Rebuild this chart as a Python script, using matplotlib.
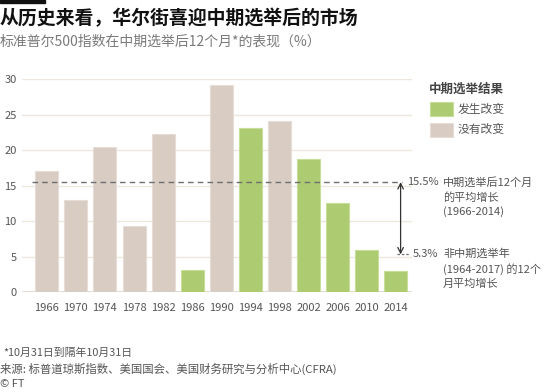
import matplotlib
matplotlib.use("Agg")
import matplotlib.pyplot as plt
from matplotlib.patches import Rectangle

plt.rcParams['font.family'] = ['Noto Sans CJK SC', 'DejaVu Sans']

years = ["1966", "1970", "1974", "1978", "1982", "1986", "1990",
         "1994", "1998", "2002", "2006", "2010", "2014"]
values = [17.1, 13.0, 20.45, 9.3, 22.3, 3.15, 29.15,
          23.1, 24.1, 18.7, 12.5, 5.9, 3.0]
changed = [False, False, False, False, False, True, False,
           True, False, True, True, True, True]
midterm_avg = 15.5
nonmidterm_avg = 5.3
yticks = [0, 5, 10, 15, 20, 25, 30]
legend_title = "中期选举结果"
legend_labels = ["发生改变", "没有改变"]

GREEN = "#adcb70"
BEIGE = "#d9ccc3"
GREEN_EDGE = "#c6dd9c"
BEIGE_EDGE = "#e6ddd6"
GRID = "#efe6dc"
W, H = 550, 392


def fx(px):
    return px / W


def fy(py):
    return 1 - py / H


fig = plt.figure(figsize=(5.5, 3.92), dpi=100)
ax = fig.add_axes([0.04, 0.255, 0.709, 0.543])

x = list(range(len(years)))
colors = [GREEN if c else BEIGE for c in changed]
edges = [GREEN_EDGE if c else BEIGE_EDGE for c in changed]
ax.bar(x, values, width=0.79, color=colors, edgecolor=edges, linewidth=0.8, zorder=2)

ax.set_xlim(-0.85, 12.55)
ax.set_ylim(0, 30)
ax.set_yticks(yticks)
ax.set_xticks(x)
ax.set_xticklabels(years)
ax.grid(axis='y', color=GRID, linewidth=1.0, zorder=0)
ax.axhline(0, color="#ddd3c8", linewidth=1.2, zorder=1)
for s in ax.spines.values():
    s.set_visible(False)
ax.tick_params(axis='both', length=0, labelsize=8, colors="#555555")
ax.tick_params(axis='x', pad=8)
ax.tick_params(axis='y', pad=4)

# dashed average lines
ax.plot([-0.5, 12.2], [midterm_avg, midterm_avg], ls=(0, (4, 3)), color="#6e6e6e",
        lw=1.0, zorder=3, clip_on=False)
ax.plot([12.03, 12.45], [nonmidterm_avg, nonmidterm_avg], ls=(0, (2, 1.5)), color="#6e6e6e",
        lw=0.9, zorder=3, clip_on=False)
ax.annotate("", xy=(12.16, midterm_avg), xytext=(12.16, nonmidterm_avg),
            arrowprops=dict(arrowstyle="<->", color="#333333", lw=0.9,
                            shrinkA=0, shrinkB=0),
            annotation_clip=False)

ann_color = "#555555"
fig.text(fx(407), fy(182), "15.5%", fontsize=8, color=ann_color, va='center', ha='left')
for i, line in enumerate(["中期选举后12个月", "的平均增长", "(1966-2014)"]):
    fig.text(fx(443), fy(182 + 15 * i), line, fontsize=8, color=ann_color,
             va='center', ha='left')
fig.text(fx(413), fy(254), "5.3%", fontsize=8, color=ann_color, va='center', ha='left')
for i, line in enumerate(["非中期选举年", "(1964-2017) 的12个", "月平均增长"]):
    fig.text(fx(443), fy(254 + 15 * i), line, fontsize=8, color=ann_color,
             va='center', ha='left')

# legend (manual)
fig.text(fx(429), fy(89), legend_title, fontsize=9, fontweight='bold', color="#444444",
         va='center', ha='left')
for i, (lab, col, ec) in enumerate(zip(legend_labels, [GREEN, BEIGE], [GREEN_EDGE, BEIGE_EDGE])):
    top = 102 + 21 * i
    fig.add_artist(Rectangle((fx(430), fy(top + 14)), 23 / W, 14 / H,
                             transform=fig.transFigure, facecolor=col, edgecolor=ec, lw=0.8))
    fig.text(fx(458), fy(top + 7), lab, fontsize=8.5, color="#555555",
             va='center', ha='left')

# title block
fig.add_artist(Rectangle((0, fy(3)), 45 / W, 3 / H, transform=fig.transFigure,
                         color="#111111"))
fig.text(0.0, fy(19), "从历史来看，华尔街喜迎中期选举后的市场", fontsize=13.6,
         fontweight='bold', color="#111111", va='center', ha='left')
fig.text(0.0, fy(42), "标准普尔500指数在中期选举后12个月*的表现（%）", fontsize=10,
         color="#7a7a7a", va='center', ha='left')

# footer
fig.text(fx(3), fy(353), "*10月31日到隔年10月31日", fontsize=7.8, color="#555555",
         va='center', ha='left')
fig.text(0.0, fy(369), "来源: 标普道琼斯指数、美国国会、美国财务研究与分析中心(CFRA)",
         fontsize=8.2, color="#555555", va='center', ha='left')
fig.text(0.0, fy(384), "© FT", fontsize=8, color="#555555", va='center', ha='left')

fig.savefig("out.png", dpi=100)
